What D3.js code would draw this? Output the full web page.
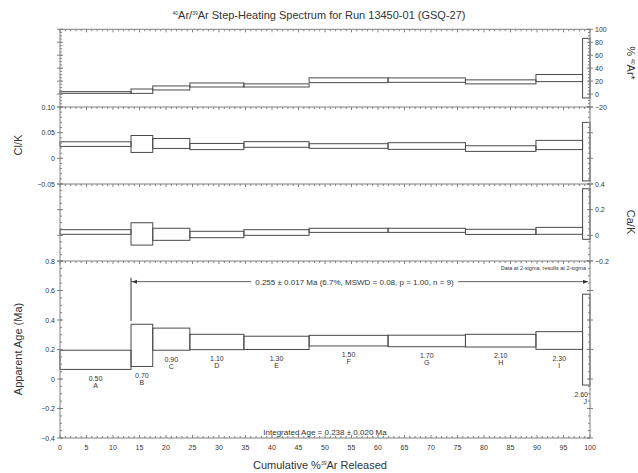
<!DOCTYPE html>
<html><head><meta charset="utf-8">
<script src="https://cdn.jsdelivr.net/npm/d3@7"></script>
<style>body{margin:0;background:#fff}svg{display:block;font-family:"Liberation Sans",Arial,sans-serif}</style>
</head><body><svg id="c" width="638" height="473"></svg>
<script>
// ---- data ----
const stepLetters = ["A","B","C","D","E","F","G","H","I","J"];
const stepPowers = ["0.50","0.70","0.90","1.10","1.30","1.50","1.70","2.10","2.30","2.60"];
const cumPct = [0, 13.4, 17.5, 24.5, 34.7, 47.0, 61.9, 76.5, 89.8, 98.6, 100];
const radiogenic = [2.4, 4.4, 9.4, 14.0, 13.3, 21.3, 21.5, 18.8, 24.7, 40];
const radiogenicErr = [1.3, 3.4, 3.1, 3.1, 2.4, 3.7, 3.4, 3.1, 5.5, 46];
const clK = [0.0277, 0.028, 0.029, 0.023, 0.027, 0.024, 0.024, 0.019, 0.026, 0.013];
const clKErr = [0.0045, 0.0165, 0.0097, 0.006, 0.0055, 0.0045, 0.0065, 0.0055, 0.009, 0.057];
const caK = [0.026, 0.011, 0.008, 0.0065, 0.022, 0.039, 0.039, 0.027, 0.035, 0.166];
const caKErr = [0.018, 0.087, 0.047, 0.025, 0.022, 0.016, 0.016, 0.02, 0.027, 0.197];
const ageMa = [0.13, 0.228, 0.27, 0.251, 0.245, 0.26, 0.258, 0.26, 0.261, 0.267];
const ageErr = [0.065, 0.143, 0.075, 0.052, 0.045, 0.036, 0.039, 0.043, 0.06, 0.308];
const xMajorTicks = d3.range(0, 101, 5);
const plateauFirst = 1, plateauLast = 9;
const plateauAge = 0.66;
const plateauText = "0.255 \u00b1 0.017 Ma (6.7%, MSWD = 0.08, p = 1.00, n = 9)";
const integratedText = "Integrated Age = 0.238 \u00b1 0.020 Ma";

const svg = d3.select("#c");
const X0 = 60, X1 = 590;
const x = d3.scaleLinear().domain([0,100]).range([X0,X1]);
const axisCol = "#808080", boxCol = "#4a4a4a", txt = "#333";

const panels = [
  {top:29.3, bot:107, dom:[-20,100], major:20, minor:5, labelSide:"right", fmt:d=>d3.format("d")(d), vals:radiogenic, errs:radiogenicErr},
  {top:107, bot:184, dom:[-0.05,0.10], major:0.05, minor:0.01, labelSide:"left", fmt:d=>d===0?"0":d3.format(".2f")(d), vals:clK, errs:clKErr},
  {top:184, bot:261, dom:[-0.2,0.4], major:0.2, minor:0.05, labelSide:"right", fmt:d=>d===0?"0":d3.format(".1f")(d), vals:caK, errs:caKErr},
  {top:261, bot:438, dom:[-0.4,0.8], major:0.2, minor:0.05, labelSide:"left", fmt:d=>d===0?"0":d3.format(".1f")(d), vals:ageMa, errs:ageErr}
];

function rng(a,b,s){const out=[];const n=Math.round((b-a)/s);for(let i=0;i<=n;i++)out.push(+(a+i*s).toFixed(6));return out;}

panels.forEach((p,pi)=>{
  p.y = d3.scaleLinear().domain(p.dom).range([p.bot,p.top]);
  const g = svg.append("g");
  // boxes
  g.selectAll("rect.s").data(p.vals).join("rect")
    .attr("x",(d,i)=>x(cumPct[i]))
    .attr("width",(d,i)=>x(cumPct[i+1])-x(cumPct[i]))
    .attr("y",(d,i)=>p.y(d+p.errs[i]))
    .attr("height",(d,i)=>p.y(d-p.errs[i])-p.y(d+p.errs[i]))
    .attr("fill","none").attr("stroke",boxCol).attr("stroke-width",1);
  const majors = rng(p.dom[0],p.dom[1],p.major);
  const minors = rng(p.dom[0],p.dom[1],p.minor);
  // left & right axes
  [["left",X0],["right",X1]].forEach(([side,xx])=>{
    const dir = side==="left"?1:-1;
    g.append("line").attr("x1",xx).attr("x2",xx).attr("y1",p.top).attr("y2",p.bot).attr("stroke",axisCol);
    g.selectAll("line.mi"+side).data(minors).join("line")
      .attr("x1",xx).attr("x2",xx+dir*2).attr("y1",d=>p.y(d)).attr("y2",d=>p.y(d)).attr("stroke",axisCol);
    g.selectAll("line.ma"+side).data(majors).join("line")
      .attr("x1",xx-dir*3).attr("x2",xx+dir*3).attr("y1",d=>p.y(d)).attr("y2",d=>p.y(d)).attr("stroke",axisCol);
    if(side===p.labelSide){
      g.selectAll("text.l"+side).data(majors).join("text")
        .attr("x",xx-dir*5).attr("y",d=>p.y(d)+2.5)
        .attr("text-anchor",side==="left"?"end":"start")
        .attr("font-size",7).attr("fill",txt).text(p.fmt);
    }
  });
  // top edge with x ticks
  const xMinors = d3.range(0,101,1);
  g.append("line").attr("x1",X0).attr("x2",X1).attr("y1",p.top).attr("y2",p.top).attr("stroke",axisCol);
  g.selectAll("line.xt").data(xMinors).join("line")
    .attr("x1",d=>x(d)).attr("x2",d=>x(d)).attr("y1",p.top).attr("y2",d=>p.top+(d%5===0?3:2)).attr("stroke",axisCol);
  if(pi===panels.length-1){
    g.append("line").attr("x1",X0).attr("x2",X1).attr("y1",p.bot).attr("y2",p.bot).attr("stroke",axisCol);
    g.selectAll("line.xb").data(xMinors).join("line")
      .attr("x1",d=>x(d)).attr("x2",d=>x(d)).attr("y1",p.bot).attr("y2",d=>p.bot-(d%5===0?3:2)).attr("stroke",axisCol);
    g.selectAll("text.xl").data(xMajorTicks).join("text")
      .attr("x",d=>x(d)).attr("y",p.bot+12).attr("text-anchor","middle")
      .attr("font-size",7).attr("fill",txt).text(d=>d);
  }
});

// step labels in age panel
const pa = panels[3];
stepLetters.forEach((L,i)=>{
  const last = i===stepLetters.length-1;
  const cx = last ? X1-2 : (x(cumPct[i])+x(cumPct[i+1]))/2;
  const by = pa.y(ageMa[i]-ageErr[i]);
  const t = svg.append("text").attr("font-size",7).attr("fill",txt).attr("text-anchor",last?"end":"middle");
  t.append("tspan").attr("x",cx).attr("y",by+11.5).text(stepPowers[i]);
  t.append("tspan").attr("x",last?cx-1:cx).attr("y",by+18.5).text(L);
});

// plateau
const py = pa.y(plateauAge);
const pxl = x(cumPct[plateauFirst]), pxr = x(cumPct[plateauLast+1])-2;
svg.append("line").attr("x1",pxl).attr("x2",pxl).attr("y1",pa.y(0.687)).attr("y2",pa.y(0.393)).attr("stroke","#333");
const pt = svg.append("text").attr("x",(pxl+pxr)/2+ -5).attr("y",py+3).attr("text-anchor","middle")
  .attr("font-size",8).attr("fill",txt).text(plateauText);
const bb = pt.node().getBBox();
svg.append("line").attr("x1",pxl).attr("x2",bb.x-4).attr("y1",py).attr("y2",py).attr("stroke","#333").attr("stroke-width",0.8);
svg.append("line").attr("x1",bb.x+bb.width+4).attr("x2",pxr).attr("y1",py).attr("y2",py).attr("stroke","#333").attr("stroke-width",0.8);
svg.append("path").attr("d",`M${pxl+1},${py} l5,-2 l0,4 z`).attr("fill","#333");
svg.append("path").attr("d",`M${pxr},${py} l-5,-2 l0,4 z`).attr("fill","#333");

svg.append("text").attr("x",X1-4).attr("y",pa.top+9).attr("text-anchor","end").attr("font-size",5.5).attr("fill",txt)
  .text("Data at 2-sigma, results at 2-sigma");
svg.append("text").attr("x",325).attr("y",435).attr("text-anchor","middle").attr("font-size",8).attr("fill",txt).text(integratedText);

// titles
const title = svg.append("text").attr("x",319).attr("y",19).attr("text-anchor","middle").attr("font-size",11).attr("fill",txt);
title.append("tspan").attr("font-size",5).attr("dy",-4).text("40");
title.append("tspan").attr("dy",4).text("Ar/");
title.append("tspan").attr("font-size",5).attr("dy",-4).text("39");
title.append("tspan").attr("dy",4).text("Ar Step-Heating Spectrum for Run 13450-01 (GSQ-27)");

const xt = svg.append("text").attr("x",320).attr("y",469).attr("text-anchor","middle").attr("font-size",11).attr("fill",txt);
xt.append("tspan").text("Cumulative %");
xt.append("tspan").attr("font-size",5).attr("dy",-4).text("39");
xt.append("tspan").attr("dy",4).text("Ar Released");

svg.append("text").attr("transform","translate(22,145) rotate(-90)").attr("text-anchor","middle").attr("font-size",11).attr("fill",txt).text("Cl/K");
svg.append("text").attr("transform","translate(22,349) rotate(-90)").attr("text-anchor","middle").attr("font-size",11).attr("fill",txt).text("Apparent Age (Ma)");
const r1 = svg.append("text").attr("transform","translate(627,63) rotate(90)").attr("text-anchor","middle").attr("font-size",11).attr("fill",txt);
r1.append("tspan").text("% ");
r1.append("tspan").attr("font-size",5).attr("dy",-4).text("40");
r1.append("tspan").attr("dy",4).text("Ar*");
svg.append("text").attr("transform","translate(627,222) rotate(90)").attr("text-anchor","middle").attr("font-size",11).attr("fill",txt).text("Ca/K");
</script></body></html>
